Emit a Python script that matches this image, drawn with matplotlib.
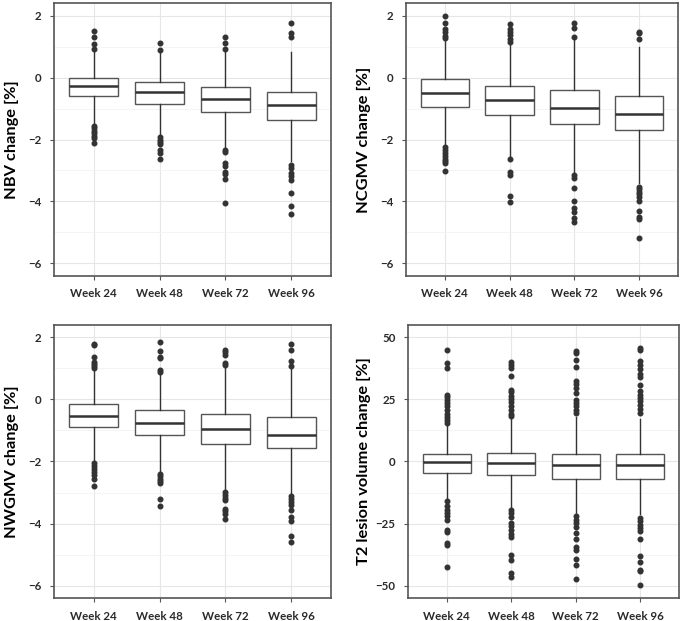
import matplotlib
matplotlib.use("Agg")
import matplotlib.pyplot as plt
from matplotlib.ticker import MultipleLocator

plt.rcParams['font.family'] = ['Lato', 'DejaVu Sans']

weeks = ["Week 24", "Week 48", "Week 72", "Week 96"]

# box summaries per week: (lower whisker, q1, median, q3, upper whisker)
nbv_box = [(-1.50, -0.61, -0.27, 0.00, 0.88),
           (-1.87, -0.84, -0.48, -0.15, 0.85),
           (-2.28, -1.10, -0.70, -0.31, 0.85),
           (-2.70, -1.37, -0.90, -0.47, 0.84)]
nbv_out = [[1.52, 1.32, 1.07, 0.92, -1.56, -1.64, -1.71, -1.80, -1.89, -1.95, -2.12],
           [1.13, 0.89, -1.92, -2.00, -2.07, -2.15, -2.34, -2.43, -2.64],
           [1.32, 1.13, 0.91, -2.34, -2.41, -2.77, -2.85, -3.04, -3.11, -3.28, -4.04],
           [1.77, 1.43, 1.32, -2.82, -2.91, -3.09, -3.17, -3.31, -3.72, -4.15, -4.42]]

ncgmv_box = [(-2.20, -0.94, -0.50, -0.03, 1.25),
             (-2.55, -1.21, -0.73, -0.27, 1.08),
             (-3.10, -1.50, -0.97, -0.40, 1.25),
             (-3.39, -1.69, -1.17, -0.58, 0.98)]
ncgmv_out = [[1.99, 1.77, 1.57, 1.46, 1.35, 1.29, -2.23, -2.34, -2.43, -2.52, -2.63, -2.71, -2.77, -3.01],
             [1.72, 1.57, 1.46, 1.38, 1.25, 1.14, -2.63, -3.04, -3.15, -3.83, -4.01],
             [1.77, 1.61, 1.32, -3.15, -3.23, -3.58, -3.99, -4.22, -4.33, -4.55, -4.65],
             [1.46, 1.43, 1.24, -3.52, -3.61, -3.69, -3.77, -3.85, -3.99, -4.31, -4.51, -4.58, -5.19]]

nwgmv_box = [(-2.00, -0.89, -0.52, -0.16, 0.98),
             (-2.35, -1.15, -0.76, -0.33, 0.85),
             (-2.95, -1.45, -0.95, -0.46, 1.05),
             (-3.10, -1.58, -1.15, -0.57, 0.98)]
nwgmv_out = [[1.80, 1.75, 1.37, 1.21, 1.14, 1.07, 1.01, -2.05, -2.13, -2.23, -2.34, -2.44, -2.55, -2.80],
             [1.84, 1.55, 1.37, 1.32, 0.96, 0.88, -2.40, -2.48, -2.55, -2.64, -2.69, -3.21, -3.42],
             [1.60, 1.53, 1.44, 1.17, 1.10, -2.98, -3.07, -3.18, -3.25, -3.52, -3.60, -3.69, -3.84],
             [1.80, 1.60, 1.25, 1.09, -3.12, -3.21, -3.30, -3.41, -3.55, -3.80, -3.91, -4.41, -4.59]]

t2_box = [(-15.5, -4.6, -0.3, 3.2, 15.0),
          (-18.5, -5.6, -0.6, 3.4, 17.0),
          (-21.0, -6.9, -1.5, 3.2, 18.0),
          (-21.0, -6.9, -1.4, 3.2, 17.0)]
t2_out = [[44.8, 39.7, 37.5, 26.9, 26.0, 24.9, 23.6, 22.2, 20.9, 19.3, 17.9, 16.6, 15.5,
           -16.0, -18.1, -19.4, -20.7, -22.1, -23.7, -27.4, -28.5, -32.8, -33.5, -42.6],
          [39.9, 39.0, 37.7, 34.6, 28.9, 27.9, 26.5, 25.2, 23.8, 22.2, 20.9, 19.3, 18.2,
           -19.4, -20.7, -22.3, -24.8, -26.1, -27.7, -29.1, -30.5, -37.5, -39.5, -44.9, -46.6],
          [44.4, 43.7, 40.7, 38.1, 32.3, 31.3, 29.6, 27.6, 24.9, 23.6, 22.2, 20.9, 19.5,
           -22.1, -23.4, -24.8, -26.4, -28.8, -31.2, -34.6, -35.5, -39.3, -41.5, -47.3],
          [45.7, 44.8, 40.3, 39.0, 37.2, 35.4, 34.0, 30.9, 28.3, 26.9, 25.6, 24.2, 22.9, 21.3, 19.5,
           -22.8, -24.1, -25.4, -26.8, -28.1, -31.2, -37.9, -40.5, -43.6, -44.2, -49.6]]

panels = [
    ("NBV change [%]", nbv_box, nbv_out, [0.0788, 0.556, 0.4044, 0.4387], (-6.4, 2.4), 2, 1, -0.128),
    ("NCGMV change [%]", ncgmv_box, ncgmv_out, [0.5927, 0.556, 0.3971, 0.4387], (-6.4, 2.4), 2, 1, -0.13),
    ("NWGMV change [%]", nwgmv_box, nwgmv_out, [0.0788, 0.037, 0.4044, 0.4397], (-6.4, 2.4), 2, 1, -0.128),
    ("T2 lesion volume change [%]", t2_box, t2_out, [0.5956, 0.037, 0.3956, 0.4397], (-55, 55), 25, 12.5, -0.135),
]

fig = plt.figure(figsize=(6.85, 6.21), dpi=100)

for ylabel, boxes, outs, pos, ylim, major, minor, labx in panels:
    ax = fig.add_axes(pos)
    stats = []
    for w, b, o in zip(weeks, boxes, outs):
        stats.append(dict(label=w, whislo=b[0], q1=b[1], med=b[2], q3=b[3], whishi=b[4], fliers=o))
    ax.bxp(stats, positions=[1, 2, 3, 4], widths=0.75, patch_artist=True, showcaps=False,
           boxprops=dict(facecolor="white", edgecolor="#555555", linewidth=1.0),
           medianprops=dict(color="#333333", linewidth=1.8),
           whiskerprops=dict(color="#333333", linewidth=1.0),
           flierprops=dict(marker="o", markerfacecolor="#333333", markeredgecolor="#333333",
                           markersize=3.3, linestyle="none"),
           zorder=3)
    ax.set_xlim(0.4, 4.6)
    ax.set_ylim(*ylim)
    ax.yaxis.set_major_locator(MultipleLocator(major))
    ax.yaxis.set_minor_locator(MultipleLocator(minor))
    ax.grid(which="major", color="#e6e6e6", linewidth=0.8, zorder=0)
    ax.grid(which="minor", axis="y", color="#f2f2f2", linewidth=0.6, zorder=0)
    ax.set_axisbelow(True)
    ax.tick_params(which="minor", length=0)
    ax.tick_params(which="major", length=3, color="#555555", labelsize=8.3)
    ax.set_xticks([1, 2, 3, 4])
    ax.set_xticklabels(weeks)
    for lab in ax.get_xticklabels() + ax.get_yticklabels():
        lab.set_fontweight("bold")
        lab.set_color("#2a2a2a")
    ax.tick_params(axis="x", pad=6)
    ax.tick_params(axis="y", pad=6)
    ax.set_ylabel(ylabel, fontsize=11.8, fontweight="bold")
    ax.yaxis.set_label_coords(labx, 0.5)
    for sp in ax.spines.values():
        sp.set_color("#555555")
        sp.set_linewidth(1.2)

fig.savefig("out.png", dpi=100)
